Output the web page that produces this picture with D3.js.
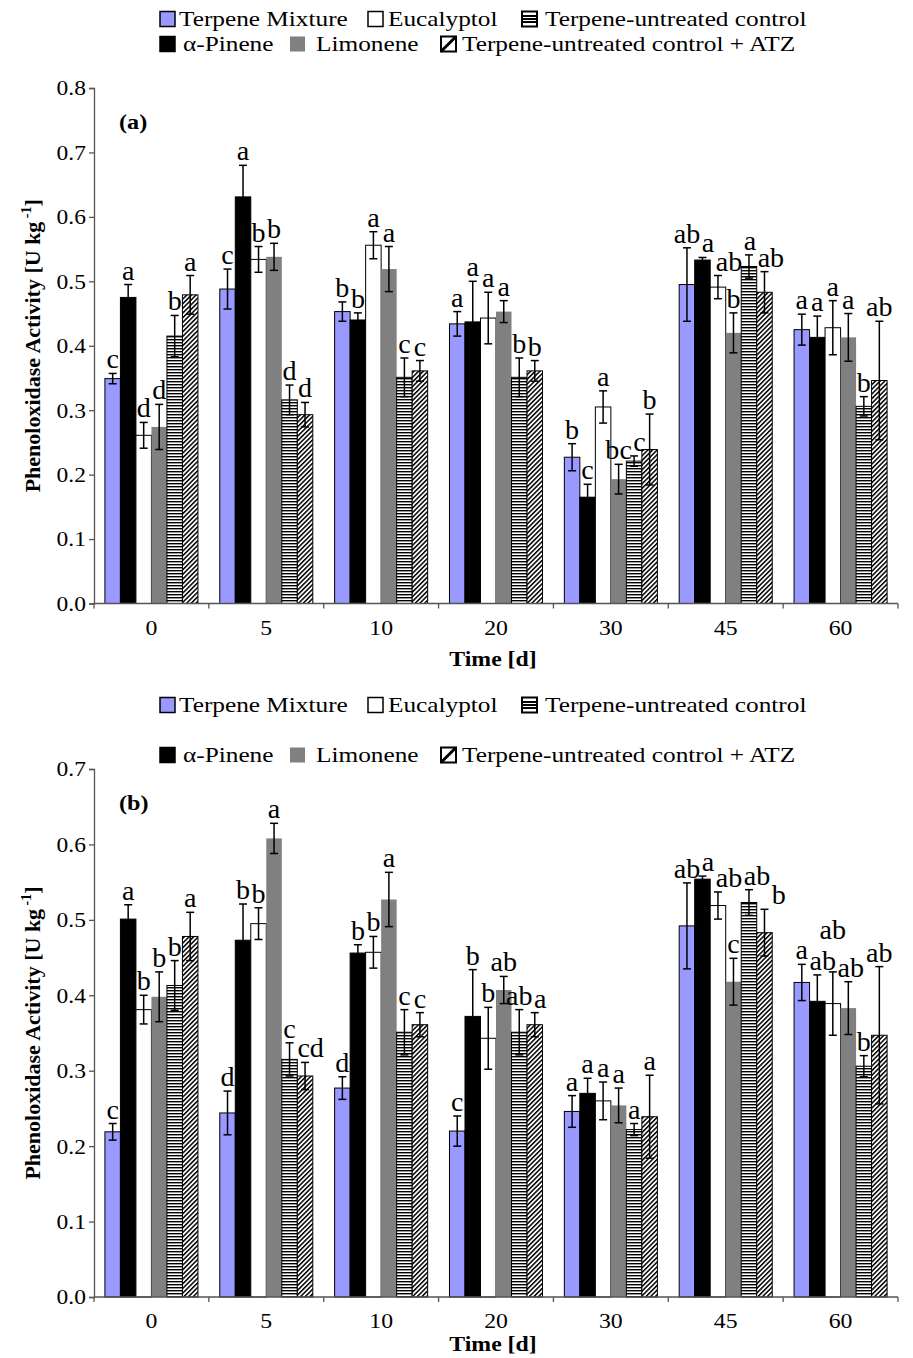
<!DOCTYPE html>
<html><head><meta charset="utf-8">
<script src="https://cdn.jsdelivr.net/npm/d3@7"></script>
<style>body{margin:0;background:#fff}svg{display:block}text{font-family:"Liberation Serif","Times New Roman",serif;fill:#000}</style>
</head><body>
<svg id="chart" width="913" height="1358"></svg>
<script>
const categories = ["0","5","10","20","30","45","60"];
const seriesNames = ["Terpene Mixture","α-Pinene","Eucalyptol","Limonene","Terpene-untreated control","Terpene-untreated control + ATZ"];
const yTicksA = ["0.0","0.1","0.2","0.3","0.4","0.5","0.6","0.7","0.8"];
const yTicksB = ["0.0","0.1","0.2","0.3","0.4","0.5","0.6","0.7"];

// Panel (a) means
const mixA  = [0.349,0.488,0.453,0.434,0.227,0.495,0.425];
const pinA  = [0.475,0.631,0.440,0.437,0.165,0.533,0.413];
const eucA  = [0.261,0.534,0.556,0.443,0.305,0.491,0.428];
const limA  = [0.274,0.538,0.519,0.453,0.193,0.420,0.413];
const ctlA  = [0.415,0.316,0.351,0.351,0.221,0.523,0.306];
const atzA  = [0.479,0.293,0.361,0.361,0.239,0.483,0.346];
// Panel (a) errors
const mixAe = [0.008,0.031,0.015,0.019,0.021,0.057,0.024];
const pinAe = [0.020,0.049,0.011,0.063,0.020,0.004,0.033];
const eucAe = [0.020,0.020,0.021,0.040,0.025,0.018,0.042];
const limAe = [0.035,0.021,0.035,0.017,0.023,0.031,0.037];
const ctlAe = [0.032,0.023,0.030,0.030,0.008,0.018,0.015];
const atzAe = [0.030,0.019,0.016,0.016,0.055,0.032,0.092];
// Panel (a) letters
const mixAl = ["c","c","b","a","b","ab","a"];
const pinAl = ["a","a","b","a","c","a","a"];
const eucAl = ["d","b","a","a","a","ab","a"];
const limAl = ["d","b","a","a","bc","b","a"];
const ctlAl = ["b","d","c","b","c","a","b"];
const atzAl = ["a","d","c","b","b","ab","ab"];

// Panel (b) means
const mixB  = [0.219,0.244,0.277,0.220,0.246,0.492,0.417];
const pinB  = [0.501,0.473,0.456,0.372,0.270,0.554,0.392];
const eucB  = [0.381,0.495,0.457,0.343,0.260,0.519,0.389];
const limB  = [0.398,0.608,0.527,0.407,0.254,0.418,0.383];
const ctlB  = [0.413,0.315,0.351,0.351,0.222,0.523,0.306];
const atzB  = [0.478,0.293,0.361,0.361,0.239,0.483,0.347];
// Panel (b) errors
const mixBe = [0.011,0.029,0.015,0.020,0.021,0.057,0.024];
const pinBe = [0.019,0.048,0.011,0.062,0.020,0.004,0.035];
const eucBe = [0.019,0.021,0.021,0.041,0.025,0.018,0.042];
const limBe = [0.033,0.020,0.036,0.018,0.023,0.031,0.035];
const ctlBe = [0.033,0.022,0.030,0.030,0.008,0.017,0.014];
const atzBe = [0.032,0.018,0.016,0.016,0.055,0.031,0.091];
// Panel (b) letters
const mixBl = ["c","d","d","c","a","ab","a"];
const pinBl = ["a","b","b","b","a","a","ab"];
const eucBl = ["b","b","b","b","a","ab","ab"];
const limBl = ["b","a","a","ab","a","c","ab"];
const ctlBl = ["b","c","c","ab","a","ab","b"];
const atzBl = ["a","cd","c","a","a","b","ab"];

const svg = d3.select("#chart");
const defs = svg.append("defs");
const hs = defs.append("pattern").attr("id","hstripe").attr("width",4).attr("height",3).attr("patternUnits","userSpaceOnUse");
hs.append("rect").attr("width",4).attr("height",3).attr("fill","#fff");
hs.append("rect").attr("width",4).attr("height",1.4).attr("fill","#000");
const dg = defs.append("pattern").attr("id","diag").attr("width",3.3).attr("height",6).attr("patternUnits","userSpaceOnUse").attr("patternTransform","rotate(45)");
dg.append("rect").attr("width",3.3).attr("height",6).attr("fill","#fff");
dg.append("rect").attr("width",1.5).attr("height",6).attr("fill","#000");

const styles = [
  {fill:"#9999ff", stroke:"#000"},
  {fill:"#000", stroke:"#000"},
  {fill:"#fff", stroke:"#000"},
  {fill:"#808080", stroke:"none"},
  {fill:"url(#hstripe)", stroke:"#000"},
  {fill:"url(#diag)", stroke:"#000"}
];

function stext(g, x, y, str, opts) {
  opts = opts || {};
  const t = g.append("text")
    .attr("transform", `translate(${x},${y}) scale(${opts.sx || 1.12},1)`)
    .attr("font-size", opts.size || 21)
    .attr("text-anchor", opts.anchor || "start")
    .attr("font-weight", opts.bold ? "bold" : null)
    .text(str);
  if (opts.dy) t.attr("dy", opts.dy);
  return t;
}

function legend(g, row1y, row2y) {
  const rows = [[0,2,4],[1,3,5]];
  const ys = [row1y,row2y];
  const iconX = [[160,368,522],[160,290,441]];
  const textOff = [[4,5,8],[8,11,6]];
  rows.forEach((row, ri) => {
    row.forEach((si, k) => {
      const x = iconX[ri][k];
      const cy = ys[ri];
      const s = 15;
      const st = styles[si];
      if (si === 4) {
        g.append("rect").attr("x",x).attr("y",cy-s/2).attr("width",s).attr("height",s).attr("fill","#fff").attr("stroke","#000").attr("stroke-width",2);
        [0.3,0.5,0.7].forEach(f => g.append("line").attr("x1",x).attr("x2",x+s).attr("y1",cy-s/2+s*f).attr("y2",cy-s/2+s*f).attr("stroke","#000").attr("stroke-width",2));
      } else if (si === 5) {
        g.append("rect").attr("x",x).attr("y",cy-s/2).attr("width",s).attr("height",s).attr("fill","#fff").attr("stroke","#000").attr("stroke-width",2);
        g.append("line").attr("x1",x).attr("y1",cy+s/2).attr("x2",x+s).attr("y2",cy-s/2).attr("stroke","#000").attr("stroke-width",3);
      } else {
        g.append("rect").attr("x",x).attr("y",cy-s/2).attr("width",s).attr("height",s).attr("fill",st.fill)
          .attr("stroke", si===3 ? "none" : "#000").attr("stroke-width",1.5);
      }
      stext(g, x + s + textOff[ri][k], cy + 7, seriesNames[si], {size:22, sx:1.15});
    });
  });
}

function panel(cfg) {
  const g = svg.append("g");
  const x0 = d3.scaleBand().domain(categories).range([94, 898]).paddingInner(0.19).paddingOuter(0.095);
  const x1 = d3.scaleBand().domain(d3.range(6)).range([0, x0.bandwidth()]);
  const y = d3.scaleLinear().domain([0, cfg.ymax]).range([cfg.y0, cfg.ytop]);

  // bars
  cfg.means.forEach((arr, si) => {
    const st = styles[si];
    g.selectAll(null).data(arr).enter().append("rect")
      .attr("x", (d,i) => x0(categories[i]) + x1(si))
      .attr("y", d => y(d))
      .attr("width", x1.bandwidth())
      .attr("height", d => y(0) - y(d))
      .attr("fill", st.fill)
      .attr("stroke", st.stroke)
      .attr("stroke-width", 1);
  });
  // error bars
  cfg.means.forEach((arr, si) => {
    arr.forEach((d, i) => {
      const e = cfg.errs[si][i];
      const cx = x0(categories[i]) + x1(si) + x1.bandwidth()/2;
      g.append("line").attr("x1",cx).attr("x2",cx).attr("y1",y(d+e)).attr("y2",y(d-e)).attr("stroke","#000").attr("stroke-width",1.5);
      [d+e, d-e].forEach(v => g.append("line").attr("x1",cx-4).attr("x2",cx+4).attr("y1",y(v)).attr("y2",y(v)).attr("stroke","#000").attr("stroke-width",1.5));
    });
  });
  // significance letters with collision handling (shift right a little, otherwise lift)
  const LS = 27, SX = 1.04;
  const placed = [];
  categories.forEach((c, i) => {
    cfg.means.forEach((arr, si) => {
      const d = arr[i], e = cfg.errs[si][i];
      let cx = x0(c) + x1(si) + x1.bandwidth()/2;
      let by = y(d + e) - 5;
      const t = stext(g, 0, 0, cfg.letters[si][i], {size:LS, anchor:"middle", sx:SX});
      const bb = t.node().getBBox();
      const w = bb.width * SX + 1;
      const h = bb.height;
      for (let iter = 0; iter < 12; iter++) {
        const hit = placed.find(p => Math.abs(p.y - by) < Math.max(h, p.h) && (cx - w/2) < p.r && (cx + w/2) > p.l);
        if (!hit) break;
        const shift = hit.r - (cx - w/2) + 0.5;
        if (shift <= 15 && cx + shift + w/2 < 910) cx += shift; else by = hit.y - Math.max(h, hit.h) - 0.5;
      }
      t.attr("transform", `translate(${cx},${by}) scale(${SX},1)`);
      placed.push({l: cx - w/2, r: cx + w/2, y: by, h: h});
    });
  });

  // y axis
  const yAxis = d3.axisLeft(y).tickValues(cfg.yticks.map(Number)).tickSize(5).tickFormat("");
  const ya = g.append("g").attr("transform","translate(94,0)").call(yAxis);
  ya.select(".domain").attr("stroke","#555").attr("stroke-width",1.3);
  ya.selectAll(".tick line").attr("stroke","#555").attr("stroke-width",1.3);
  cfg.yticks.forEach(t => stext(g, 86, y(+t), t, {size:21, anchor:"end", dy:"0.35em"}));

  // x axis
  const xa = g.append("g").attr("transform",`translate(0,${cfg.y0})`);
  xa.append("line").attr("x1",94).attr("x2",898).attr("stroke","#555").attr("stroke-width",1.3);
  const bounds = categories.map(c => x0(c) - x0.step()*x0.paddingOuter()).concat([898]);
  bounds.forEach(b => xa.append("line").attr("x1",b).attr("x2",b).attr("y1",0).attr("y2",5).attr("stroke","#555").attr("stroke-width",1.3));
  categories.forEach(c => stext(g, x0(c) + x0.bandwidth()/2, cfg.y0 + 31, c, {size:22, anchor:"middle", sx:1.08}));
  stext(g, 493, cfg.y0 + cfg.titleOff, "Time [d]", {size:22, anchor:"middle", bold:true, sx:1.08});

  // y title
  const yt = g.append("text").attr("transform",`translate(40,${(cfg.y0+cfg.ytop)/2}) rotate(-90)`)
    .attr("text-anchor","middle").attr("font-size",22).attr("font-weight","bold");
  yt.append("tspan").text("Phenoloxidase Activity [U kg");
  yt.append("tspan").attr("font-size",14).attr("dy",-9).text(" -1");
  yt.append("tspan").attr("dy",9).text("]");

  stext(g, 119, cfg.ytop + 41, cfg.label, {size:22, bold:true, sx:1.1});
  legend(g, cfg.leg1, cfg.leg2);
}

panel({means:[mixA,pinA,eucA,limA,ctlA,atzA], errs:[mixAe,pinAe,eucAe,limAe,ctlAe,atzAe], letters:[mixAl,pinAl,eucAl,limAl,ctlAl,atzAl],
  ymax:0.8, y0:603.5, ytop:88, yticks:yTicksA, label:"(a)", leg1:19, leg2:44, titleOff:62});
panel({means:[mixB,pinB,eucB,limB,ctlB,atzB], errs:[mixBe,pinBe,eucBe,limBe,ctlBe,atzBe], letters:[mixBl,pinBl,eucBl,limBl,ctlBl,atzBl],
  ymax:0.7, y0:1297, ytop:769, yticks:yTicksB, label:"(b)", leg1:705, leg2:755, titleOff:54});
</script>
</body></html>
